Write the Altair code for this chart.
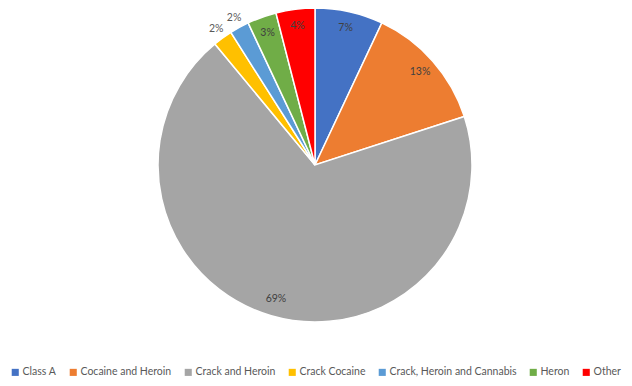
import altair as alt
import pandas as pd

categories = ["Class A", "Cocaine and Heroin", "Crack and Heroin", "Crack Cocaine",
              "Crack, Heroin and Cannabis", "Heron", "Other"]
values = [7, 13, 69, 2, 2, 3, 4]
labels = ["7%", "13%", "69%", "2%", "2%", "3%", "4%"]
colors = ["#4472C4", "#ED7D31", "#A5A5A5", "#FFC000", "#5B9BD5", "#70AD47", "#FF0000"]

df = pd.DataFrame({
    "category": categories,
    "value": values,
    "label": labels,
    "idx": list(range(len(categories))),
})

FONT = "Lato"
CX, CY = 307, 157

base = alt.Chart(df).encode(
    theta=alt.Theta("value:Q", stack=True),
    order=alt.Order("idx:Q"),
    x=alt.value(CX),
    y=alt.value(CY),
)

arcs = base.mark_arc(radius=157, stroke="white", strokeWidth=1.5).encode(
    color=alt.Color(
        "category:N",
        scale=alt.Scale(domain=categories, range=colors),
        sort=categories,
        legend=alt.Legend(
            title=None,
            orient="none",
            direction="horizontal",
            legendX=2,
            legendY=359,
            symbolType="square",
            symbolSize=50,
            symbolStrokeWidth=0,
            labelFont=FONT,
            labelFontSize=10.5,
            labelColor="#595959",
            labelOffset=2,
            columnPadding=11,
        ),
    ),
)

inner = base.mark_text(font=FONT, fontSize=10.5, radius=140, color="#404040").transform_calculate(
    t="datum.value < 3 ? '' : datum.label"
).encode(
    text="t:N",
    detail="category:N",
)

outer = base.mark_text(font=FONT, fontSize=10.5, radius=168, color="#595959").transform_calculate(
    t="datum.value < 3 ? datum.label : ''"
).encode(
    text="t:N",
    detail="category:N",
)

chart = alt.layer(arcs, inner, outer).properties(
    width=616,
    height=370,
    autosize=alt.AutoSizeParams(type="none"),
    padding=0,
).configure_view(stroke=None)

chart.save("out.html", embed_options={"renderer": "svg", "actions": False})
